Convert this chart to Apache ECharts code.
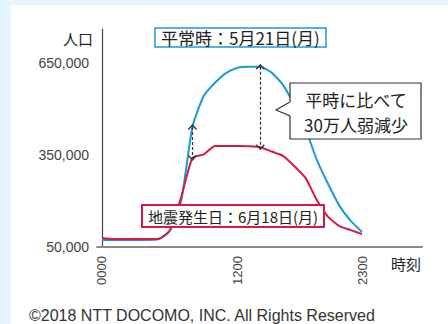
<!DOCTYPE html>
<html>
<head>
<meta charset="utf-8">
<script src="https://cdn.jsdelivr.net/npm/echarts@6/dist/echarts.min.js"></script>
<style>
    html, body { margin: 0; padding: 0; }
    #chart { width: 448px; height: 324px; }
</style>
</head>
<body>
<div id="chart"></div>
<script>
// 時刻 (0時〜23時)
let hours = [0, 1, 2, 3, 4, 5, 6, 7, 8, 9, 10, 11, 12, 13, 14, 15, 16, 17, 18, 19, 20, 21, 22, 23];
// 平常時：5月21日(月)
let normalDay = [73000, 73000, 73000, 73000, 73000, 75000, 102000, 200000, 441000, 542000, 585000, 617000,
    634000, 637000, 637000, 618000, 578000, 513000, 435000, 334000, 255000, 184000, 135000, 99000];
// 地震発生日：6月18日(月)
let quakeDay = [79000, 76000, 76000, 76000, 76000, 77000, 105000, 212000, 340000, 352000, 379000, 379000,
    379000, 378000, 375000, 361000, 347000, 314000, 275000, 203000, 148000, 118000, 105000, 92000];

let xTickValues = [0, 12, 23];
let xTickLabels = ['0000', '1200', '2300'];
let yTickValues = [50000, 350000, 650000];
// 破線矢印を引く時刻
let arrowHours = [8, 14];

let myChart = echarts.init(document.getElementById('chart'), null, {renderer: 'svg'});

let chevron = 'path://M5,0L10,5L9,6L5,2L1,6L0,5Z';

let option = {
    animation: false,
    backgroundColor: '#e4f5fc',
    title: [
        {
            text: '平常時：5月21日(月)',
            left: 155,
            top: 29,
            padding: [1, 6],
            backgroundColor: '#fff',
            borderColor: '#1b9ad6',
            borderWidth: 1.5,
            textStyle: {fontSize: 17, fontWeight: 'normal', color: '#222', fontFamily: 'Noto Sans CJK JP', lineHeight: 15}
        },
        {
            text: '地震発生日：6月18日(月)',
            left: 142,
            top: 205,
            padding: [3, 6],
            backgroundColor: '#fff',
            borderColor: '#d41b45',
            borderWidth: 2,
            textStyle: {fontSize: 15, fontWeight: 'normal', color: '#222', fontFamily: 'Noto Sans CJK JP', lineHeight: 16}
        },
        {
            text: '©2018 NTT DOCOMO, INC. All Rights Reserved',
            left: 29,
            top: 307,
            padding: 0,
            textStyle: {fontSize: 16, fontWeight: 'normal', color: '#333', fontFamily: 'Liberation Sans', lineHeight: 16}
        }
    ],
    graphic: [
        {
            type: 'rect',
            z: -100,
            shape: {x: 11, y: 5, width: 437, height: 319},
            style: {fill: '#fff'}
        },
        {
            type: 'polygon',
            z: 10,
            shape: {points: [[290, 83], [421, 83], [421, 139], [290, 139], [290, 116], [276, 110], [290, 102]]},
            style: {fill: '#fff', stroke: '#333', lineWidth: 1.2}
        },
        {
            type: 'text',
            z: 11,
            x: 356,
            y: 112,
            style: {
                text: '平時に比べて\n30万人弱減少',
                fill: '#222',
                font: '17px "Noto Sans CJK JP"',
                align: 'center',
                textAlign: 'center',
                verticalAlign: 'middle',
                textVerticalAlign: 'middle',
                lineHeight: 25
            }
        }
    ],
    grid: {left: 97, right: 26, top: 29, bottom: 77},
    xAxis: {
        type: 'value',
        min: -0.44,
        max: 28.3,
        name: '時刻',
        nameLocation: 'end',
        nameGap: 0,
        nameTextStyle: {
            fontSize: 15, color: '#222', fontFamily: 'Noto Sans CJK JP',
            align: 'right', verticalAlign: 'top', padding: [9, 1, 0, 0]
        },
        axisLine: {lineStyle: {color: '#888', width: 2}},
        axisTick: {show: false},
        splitLine: {show: false},
        axisLabel: {
            customValues: xTickValues,
            rotate: 90,
            margin: 9,
            fontSize: 13,
            color: '#444',
            fontFamily: 'Liberation Sans',
            formatter: function (v) {
                return xTickLabels[xTickValues.indexOf(v)];
            }
        }
    },
    yAxis: {
        type: 'value',
        min: 50000,
        max: 760000,
        name: '人口',
        nameLocation: 'end',
        nameGap: -9,
        nameTextStyle: {
            fontSize: 15, color: '#222', fontFamily: 'Noto Sans CJK JP',
            align: 'right', verticalAlign: 'middle', padding: [0, 9, 0, 0]
        },
        axisLine: {show: true, lineStyle: {color: '#444', width: 1.2}},
        axisTick: {show: false},
        splitLine: {show: false},
        axisLabel: {
            customValues: yTickValues,
            margin: 8,
            fontSize: 14,
            color: '#444',
            fontFamily: 'Liberation Sans',
            formatter: function (v) {
                return v.toLocaleString('en-US');
            }
        }
    },
    series: [
        {
            name: '平常時',
            type: 'line',
            data: hours.map((h, i) => [h, normalDay[i]]),
            showSymbol: false,
            smooth: 0.2,
            lineStyle: {color: '#1b9ad6', width: 2},
            markLine: {
                silent: true,
                symbol: [chevron, chevron],
                symbolSize: [9, 6],
                label: {show: false},
                lineStyle: {type: [3, 2], color: '#333', width: 1.2},
                data: arrowHours.map(h => [
                    {coord: [h, normalDay[h]]},
                    {coord: [h, quakeDay[h]]}
                ])
            }
        },
        {
            name: '地震発生日',
            type: 'line',
            data: hours.map((h, i) => [h, quakeDay[i]]),
            showSymbol: false,
            smooth: 0.2,
            lineStyle: {color: '#d41b45', width: 2}
        }
    ]
};

myChart.setOption(option);
</script>
</body>
</html>
